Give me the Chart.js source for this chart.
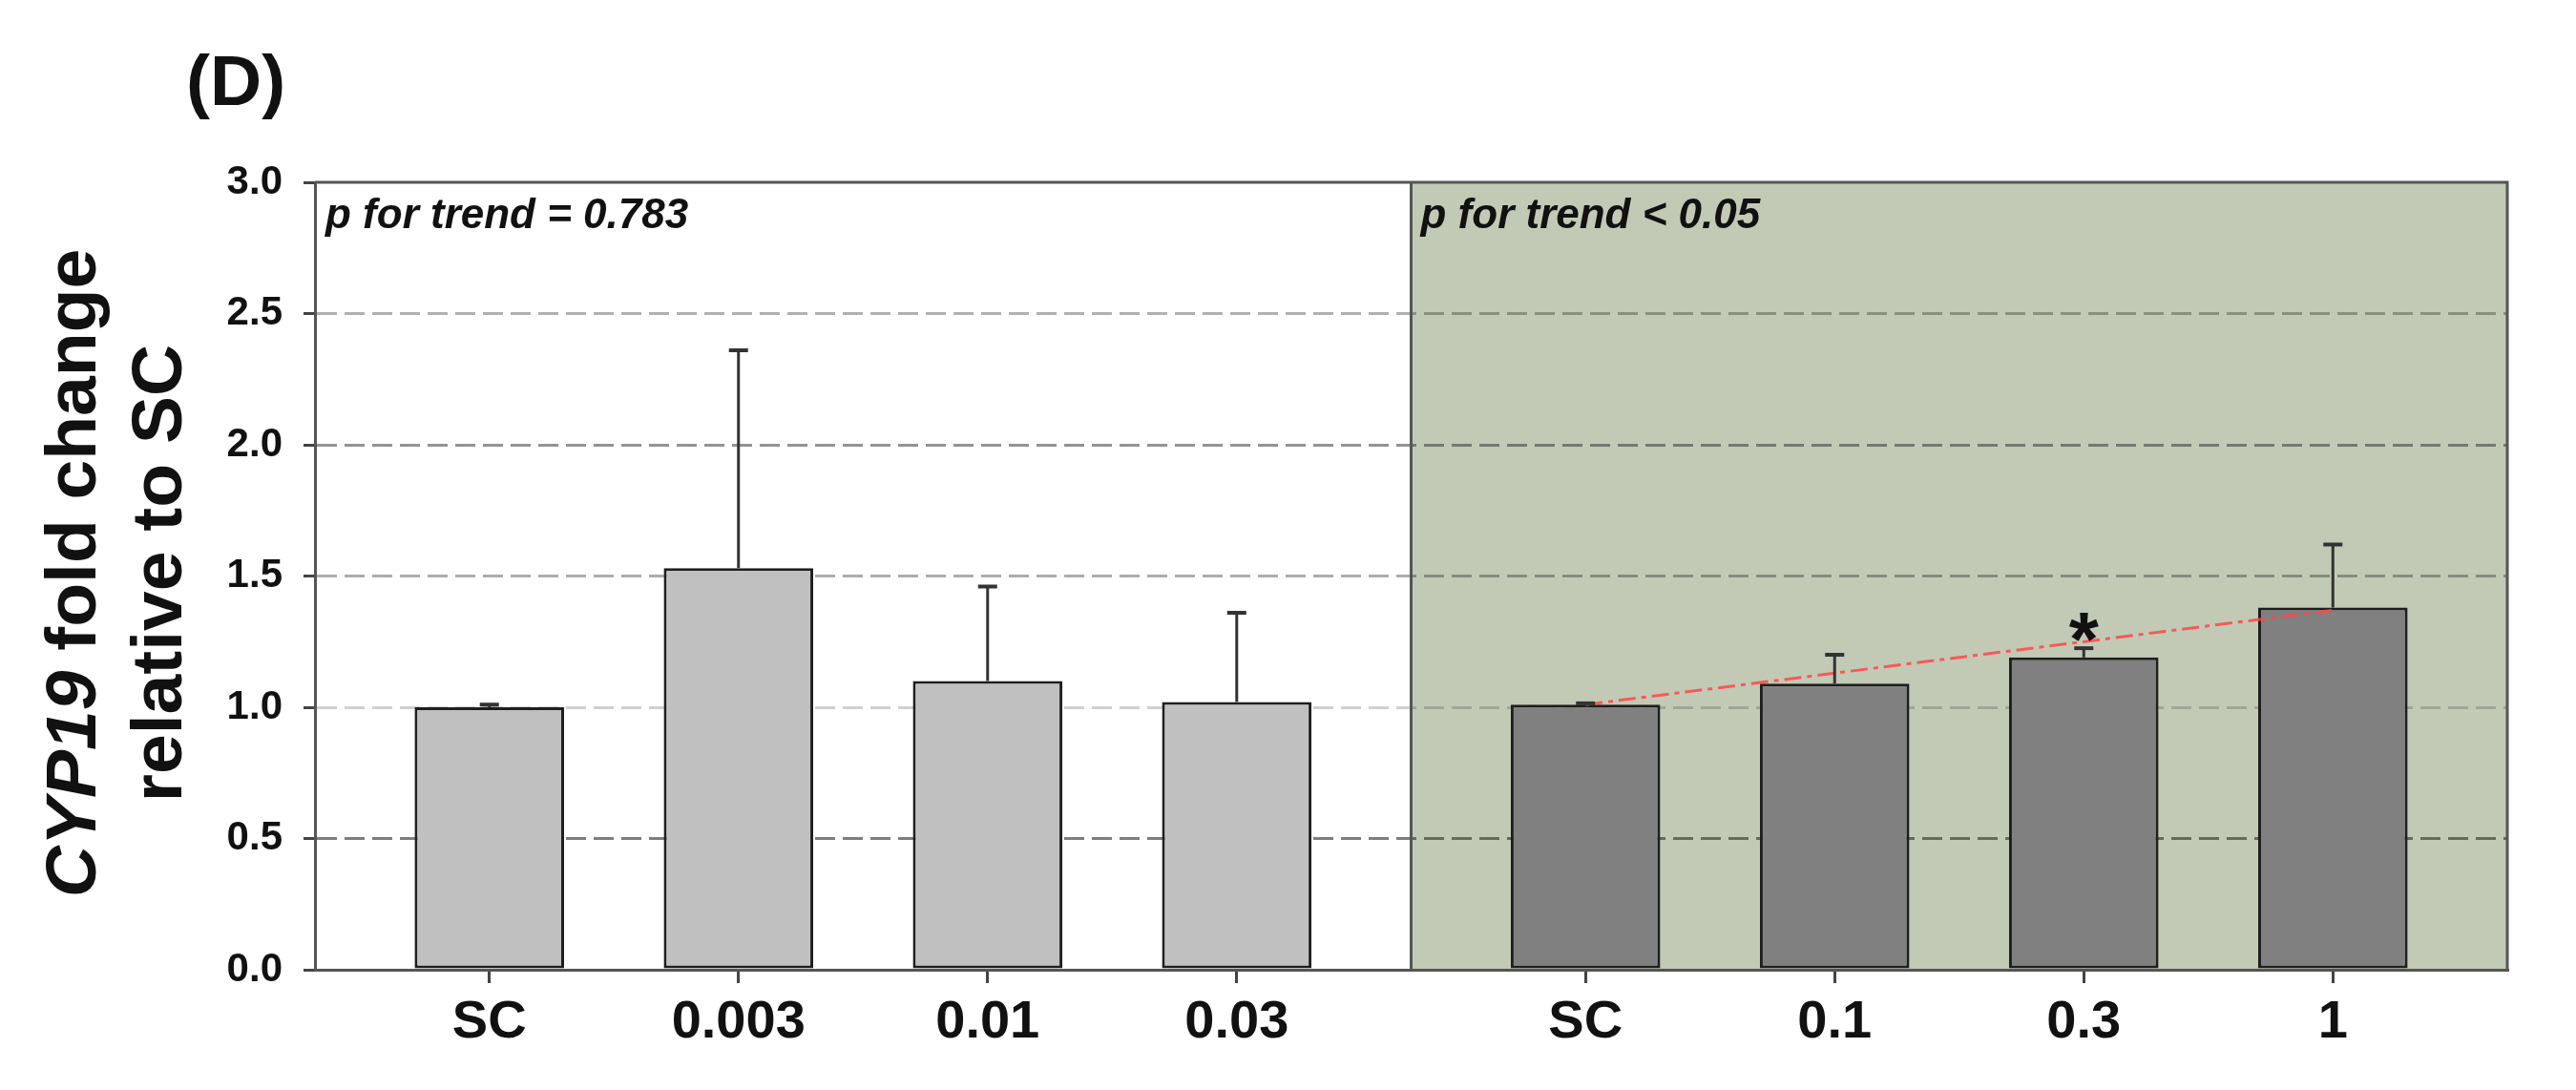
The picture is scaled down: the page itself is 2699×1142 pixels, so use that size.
<!DOCTYPE html>
<html>
<head>
<meta charset="utf-8">
<script src="https://cdn.jsdelivr.net/npm/chart.js@4.4.0/dist/chart.umd.min.js"></script>
<style>
  html, body { margin: 0; padding: 0; background: #fff; }
  canvas { display: block; }
</style>
</head>
<body>
<canvas id="chart" width="2699" height="1142"></canvas>
<script>
/* CYP19 fold change relative to SC, panel (D) */
const lowDoses = ['SC', '0.003', '0.01', '0.03'];
const highDoses = ['SC', '0.1', '0.3', '1'];
const lowMeans = [1.00, 1.53, 1.10, 1.02];
const lowErrors = [0.01, 0.83, 0.36, 0.34];
const highMeans = [1.01, 1.09, 1.19, 1.38];
const highErrors = [0.005, 0.11, 0.035, 0.24];
const highStars = ['', '', '*', ''];
const trendLine = [1.01, 1.37]; // fitted trend, SC -> highest dose
const yTicks = [0, 0.5, 1.0, 1.5, 2.0, 2.5, 3.0];
const pTexts = ['p for trend = 0.783', 'p for trend < 0.05'];

const FONT = '"Liberation Sans", Arial, Helvetica, sans-serif';
const PANEL = 4.4;   // width of one panel in bar units
const FIRST = 0.7;   // offset of first bar inside a panel
const lowX = lowDoses.map((_, i) => FIRST + i);
const highX = highDoses.map((_, i) => PANEL + FIRST + i);
const allX = lowX.concat(highX);
const allLabels = lowDoses.concat(highDoses);

// grid line darkness differs a bit per level in the original
const gridAlpha = {0.5: 0.6, 1: 0.22, 1.5: 0.38, 2: 0.5, 2.5: 0.36};

const panelShade = {
  id: 'panelShade',
  beforeDraw(chart){
    const {ctx, chartArea, scales} = chart;
    const x0 = scales.x.getPixelForValue(PANEL);
    ctx.save();
    ctx.fillStyle = '#c2cab6';
    ctx.fillRect(x0, chartArea.top, chartArea.right - x0, chartArea.bottom - chartArea.top);
    ctx.restore();
  }
};

const errorBars = {
  id: 'errorBars',
  afterDatasetsDraw(chart){
    const ctx = chart.ctx, y = chart.scales.y;
    [[0, lowMeans, lowErrors], [1, highMeans, highErrors]].forEach(function([di, means, errs]){
      chart.getDatasetMeta(di).data.forEach(function(bar, i){
        const top = y.getPixelForValue(means[i] + errs[i]);
        ctx.save();
        ctx.strokeStyle = '#333';
        ctx.lineWidth = 3;
        ctx.beginPath();
        ctx.moveTo(bar.x, bar.y);
        ctx.lineTo(bar.x, top);
        ctx.stroke();
        ctx.lineWidth = 4;
        ctx.beginPath();
        ctx.moveTo(bar.x - 10, top);
        ctx.lineTo(bar.x + 10, top);
        ctx.stroke();
        ctx.restore();
      });
    });
  }
};

const frame = {
  id: 'frame',
  afterDatasetsDraw(chart){
    const {ctx, chartArea, scales} = chart;
    const xd = scales.x.getPixelForValue(PANEL);
    ctx.save();
    ctx.strokeStyle = '#555';
    ctx.lineWidth = 3;
    ctx.beginPath();
    ctx.moveTo(chartArea.left, chartArea.top);
    ctx.lineTo(chartArea.right, chartArea.top);
    ctx.lineTo(chartArea.right, chartArea.bottom);
    ctx.moveTo(xd, chartArea.top);
    ctx.lineTo(xd, chartArea.bottom);
    ctx.stroke();
    ctx.restore();
  }
};

const texts = {
  id: 'texts',
  afterDraw(chart){
    const {ctx, chartArea, scales} = chart;
    ctx.save();
    ctx.fillStyle = '#111';

    // panel letter
    ctx.font = 'bold 75px ' + FONT;
    ctx.textAlign = 'left';
    ctx.textBaseline = 'alphabetic';
    ctx.fillText('(D)', 195, 110);

    // p for trend
    ctx.font = 'italic bold 44px ' + FONT;
    ctx.fillText(pTexts[0], chartArea.left + 11, chartArea.top + 48);
    ctx.fillText(pTexts[1], scales.x.getPixelForValue(PANEL) + 10, chartArea.top + 48);

    // significance stars
    ctx.font = 'bold 80px ' + FONT;
    ctx.textAlign = 'center';
    chart.getDatasetMeta(1).data.forEach(function(bar, i){
      if(!highStars[i]) return;
      const top = scales.y.getPixelForValue(highMeans[i] + highErrors[i]);
      ctx.fillText(highStars[i], bar.x, top - 28 + 46);
    });

    // y axis title, two lines, CYP19 in italics
    const cy = (chartArea.top + chartArea.bottom) / 2 - 3;
    const f1 = 'italic bold 75px ' + FONT, f2 = 'bold 75px ' + FONT;
    ctx.textAlign = 'left';
    ctx.translate(100, cy);
    ctx.rotate(-Math.PI / 2);
    ctx.font = f1;
    const w1 = ctx.measureText('CYP19').width;
    ctx.font = f2;
    const w2 = ctx.measureText(' fold change').width;
    let x = -(w1 + w2) / 2;
    ctx.font = f1;
    ctx.fillText('CYP19', x, 0);
    ctx.font = f2;
    ctx.fillText(' fold change', x + w1, 0);
    ctx.textAlign = 'center';
    ctx.fillText('relative to SC', 0, 90);
    ctx.restore();
  }
};

const ctx = document.getElementById('chart');
const chart = new Chart(ctx, {
  type: 'bar',
  data: {
    datasets: [{
      label: 'low doses',
      data: lowMeans.map((v, i) => ({x: lowX[i], y: v})),
      backgroundColor: '#c0c0c0',
      borderColor: '#1e1e1e',
      borderWidth: 3,
      borderSkipped: false,
      grouped: false,
      barPercentage: 0.6,
      categoryPercentage: 1,
      order: 2
    }, {
      label: 'high doses',
      data: highMeans.map((v, i) => ({x: highX[i], y: v})),
      backgroundColor: '#808080',
      borderColor: '#1e1e1e',
      borderWidth: 3,
      borderSkipped: false,
      grouped: false,
      barPercentage: 0.6,
      categoryPercentage: 1,
      order: 2
    }, {
      type: 'line',
      label: 'trend',
      data: [{x: highX[0], y: trendLine[0]}, {x: highX[highX.length - 1], y: trendLine[1]}],
      borderColor: 'rgba(255, 70, 70, 0.85)',
      borderWidth: 3,
      borderDash: [18, 6, 5, 6],
      pointRadius: 0,
      fill: false,
      order: 1
    }]
  },
  options: {
    responsive: false,
    animation: false,
    events: [],
    layout: {
      padding: {left: 0, top: 191, right: 72, bottom: 0}
    },
    plugins: {
      legend: {display: false},
      tooltip: {enabled: false},
      title: {display: false}
    },
    scales: {
      x: {
        type: 'linear',
        min: 0,
        max: 2 * PANEL,
        offset: false,
        afterBuildTicks: function(scale){
          scale.ticks = allX.map(v => ({value: v}));
        },
        afterFit: function(scale){ scale.height = 126; },
        ticks: {
          autoSkip: false,
          maxRotation: 0,
          padding: 8,
          color: '#111',
          font: {family: FONT, size: 56, weight: 'bold'},
          callback: (v, i) => allLabels[i]
        },
        grid: {
          offset: false,
          drawOnChartArea: false,
          drawTicks: true,
          tickLength: 14,
          tickColor: '#444',
          lineWidth: 3
        },
        border: {display: true, color: '#555', width: 3}
      },
      y: {
        min: 0,
        max: 3,
        afterBuildTicks: function(scale){
          scale.ticks = yTicks.map(v => ({value: v}));
        },
        afterFit: function(scale){ scale.width = 330; },
        ticks: {
          padding: 22,
          color: '#111',
          font: {family: FONT, size: 42, weight: 'bold'},
          callback: v => v.toFixed(1)
        },
        grid: {
          lineWidth: 3,
          color: c => {
            const a = c.tick ? gridAlpha[c.tick.value] : undefined;
            return a ? 'rgba(40,40,40,' + a + ')' : 'rgba(0,0,0,0)';
          },
          tickLength: 12,
          tickColor: '#444',
          tickWidth: 3,
          tickBorderDash: []
        },
        border: {display: true, color: '#555', width: 3, dash: [21, 8]}
      }
    }
  },
  plugins: [panelShade, errorBars, frame, texts]
});
</script>
</body>
</html>
